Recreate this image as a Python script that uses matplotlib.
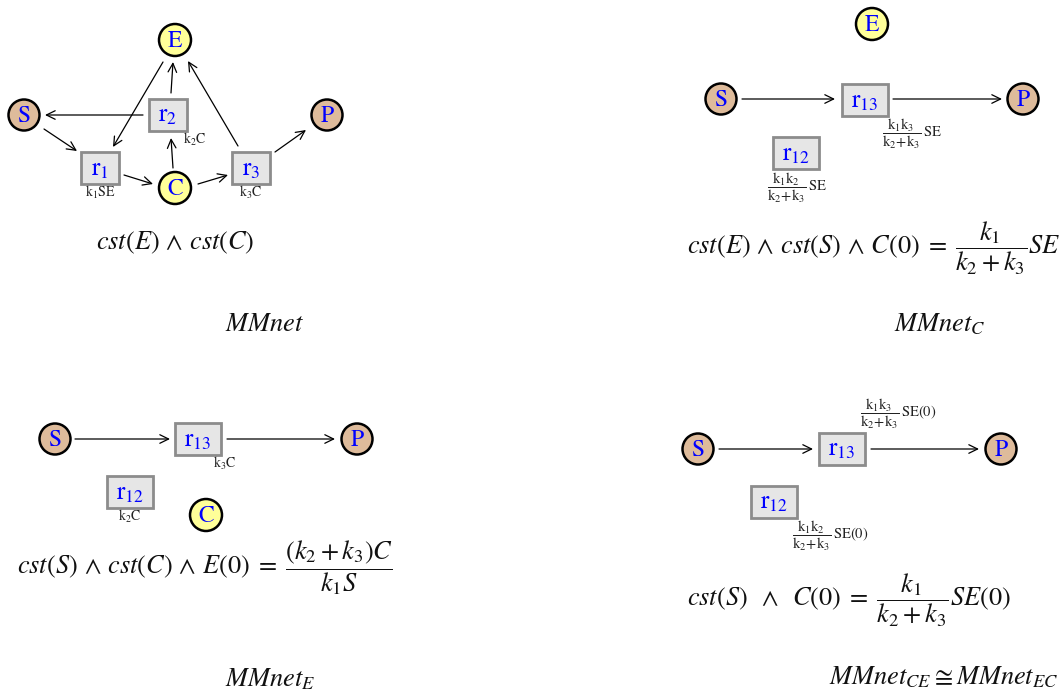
import matplotlib
matplotlib.use("Agg")
import matplotlib.pyplot as plt
from matplotlib.patches import Circle, Rectangle

plt.rcParams['mathtext.fontset'] = 'stix'
plt.rcParams['font.family'] = 'STIXGeneral'

# ---- content ----
species_yellow = ['E', 'C']
species_tan = ['S', 'P']
panel_titles = [r'$MMnet$', r'$MMnet_C$', r'$MMnet_E$', r'$MMnet_{CE} \cong MMnet_{EC}$']
panel_equations = [
    r'$cst(E)\,\wedge\,cst(C)$',
    r'$cst(E)\,\wedge\,cst(S)\,\wedge\,C(0)\;=\;\dfrac{k_1}{k_2+k_3}SE$',
    r'$cst(S)\,\wedge\,cst(C)\,\wedge\,E(0)\;=\;\dfrac{(k_2+k_3)C}{k_1S}$',
    r'$cst(S)\;\;\wedge\;\;C(0)\;=\;\dfrac{k_1}{k_2+k_3}SE(0)$',
]

# panel 1 network
p1_species = {'E': (175, 40), 'S': (24, 115), 'P': (327, 115), 'C': (175, 188)}
p1_reactions = {r'$\mathrm{r_1}$': (100, 168), r'$\mathrm{r_2}$': (168, 114.5), r'$\mathrm{r_3}$': (251, 168)}
p1_rates = [(r'$\mathrm{k_1SE}$', (100, 192)), (r'$\mathrm{k_2C}$', (195, 139)), (r'$\mathrm{k_3C}$', (251, 192))]
p1_arrows = [((163, 62), (113, 147)), ((171, 93), (173, 62)), ((238, 146), (188, 61)),
             ((143, 115), (45, 115)), ((44, 129), (77, 151)), ((124, 175), (153, 184)),
             ((173, 168), (171, 138)), ((198, 184), (228, 175)), ((275, 152), (306, 130))]

# panel 2 network
p2_species = {'E': (872, 24), 'S': (721, 99), 'P': (1023, 99)}
p2_reactions = {r'$\mathrm{r_{13}}$': (864.5, 100), r'$\mathrm{r_{12}}$': (796, 153)}
p2_rates = [(r'$\dfrac{\mathrm{k_1k_3}}{\mathrm{k_2\!+\!k_3}}\,\mathrm{SE}$', (912, 134)),
            (r'$\dfrac{\mathrm{k_1k_2}}{\mathrm{k_2\!+\!k_3}}\,\mathrm{SE}$', (797, 188))]
p2_arrows = [((742, 99), (835, 99)), ((893, 99), (1002, 99))]

# panel 3 network
p3_species = {'S': (55, 439), 'P': (357, 439), 'C': (206, 515)}
p3_reactions = {r'$\mathrm{r_{13}}$': (197.5, 439), r'$\mathrm{r_{12}}$': (130, 492)}
p3_rates = [(r'$\mathrm{k_3C}$', (225, 463)), (r'$\mathrm{k_2C}$', (130, 516))]
p3_arrows = [((75, 439), (170, 439)), ((227, 439), (335, 439))]

# panel 4 network
p4_species = {'S': (698, 449), 'P': (1001, 449)}
p4_reactions = {r'$\mathrm{r_{13}}$': (842, 448.5), r'$\mathrm{r_{12}}$': (774, 501.5)}
p4_rates = [(r'$\dfrac{\mathrm{k_1k_3}}{\mathrm{k_2\!+\!k_3}}\,\mathrm{SE(0)}$', (898, 414)),
            (r'$\dfrac{\mathrm{k_1k_2}}{\mathrm{k_2\!+\!k_3}}\,\mathrm{SE(0)}$', (830, 536))]
p4_arrows = [((719, 449), (813, 449)), ((871, 449), (979, 449))]

title_pos = [(265, 325), (940, 325), (270, 680), (944, 678)]
eq_pos = [(175, 243, 'center'), (687, 248, 'left'), (17, 568, 'left'), (687, 600, 'left')]

# ---- styles ----
YELLOW = '#FFFF99'
TAN = '#DEBB9B'
BLUE = '#0000FF'
BOX_FACE = '#E6E6E6'
BOX_EDGE = '#8C8C8C'

fig = plt.figure(figsize=(10.62, 6.95), dpi=100)
ax = fig.add_axes([0, 0, 1, 1])
ax.set_xlim(0, 1062)
ax.set_ylim(695, 0)
ax.axis('off')


def draw_species(d):
    for name, (x, y) in d.items():
        fc = YELLOW if name in species_yellow else TAN
        r = 16 if name in species_yellow else 15.5
        ax.add_patch(Circle((x, y), r, facecolor=fc, edgecolor='black', lw=1.8, zorder=3))
        ax.text(x, y + 1, name, color=BLUE, fontsize=17, ha='center', va='center', zorder=4)


def draw_reactions(d):
    for name, (x, y) in d.items():
        w = 38 if len(name) < 16 else 46
        h = 32
        ax.add_patch(Rectangle((x - w / 2, y - h / 2), w, h, facecolor=BOX_FACE,
                               edgecolor=BOX_EDGE, lw=2, zorder=3))
        ax.text(x, y + 1, name, color=BLUE, fontsize=18, ha='center', va='center', zorder=4)


def draw_rates(lst):
    for txt, (x, y) in lst:
        fs = 10.5 if 'dfrac' in txt else 10
        ax.text(x, y, txt, fontsize=fs, color='#222222', ha='center', va='center', zorder=4)


def draw_arrows(lst):
    for (x0, y0), (x1, y1) in lst:
        ax.annotate('', xy=(x1, y1), xytext=(x0, y0),
                    arrowprops=dict(arrowstyle='->,head_length=0.45,head_width=0.22',
                                    lw=0.9, color='black', shrinkA=0, shrinkB=0,
                                    mutation_scale=14), zorder=2)


for sp, rx, rt, ar in [(p1_species, p1_reactions, p1_rates, p1_arrows),
                       (p2_species, p2_reactions, p2_rates, p2_arrows),
                       (p3_species, p3_reactions, p3_rates, p3_arrows),
                       (p4_species, p4_reactions, p4_rates, p4_arrows)]:
    draw_arrows(ar)
    draw_species(sp)
    draw_reactions(rx)
    draw_rates(rt)

for txt, (x, y, ha) in zip(panel_equations, eq_pos):
    ax.text(x, y, txt, fontsize=19, ha=ha, va='center', color='#111111')

for txt, (x, y) in zip(panel_titles, title_pos):
    ax.text(x, y, txt, fontsize=19, ha='center', va='center', color='#111111')

fig.savefig('out.png', dpi=100)
